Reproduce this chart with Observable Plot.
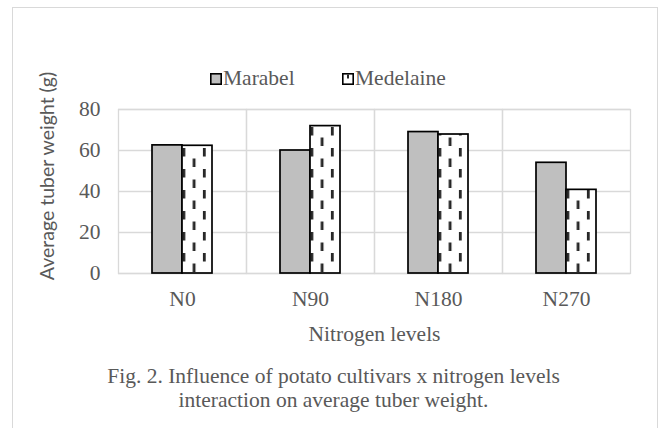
<!DOCTYPE html>
<html>
<head>
<meta charset="utf-8">
<script src="https://cdn.jsdelivr.net/npm/d3@7"></script>
<script src="https://cdn.jsdelivr.net/npm/@observablehq/plot@0.6"></script>
<style>
  html, body { margin: 0; padding: 0; background: #fff; }
  #wrap { position: relative; width: 667px; height: 428px; overflow: hidden; background: #fff; }
  #border { position: absolute; left: 12px; top: 7px; width: 646px; height: 480px; border: 1px solid #d9d9d9; box-sizing: border-box; }
  #chart { position: absolute; left: 0; top: 0; }
  #chart svg, #chart svg text { font-family: "Liberation Serif", "Times New Roman", serif !important; }
  .serif { font-family: "Liberation Serif", "Times New Roman", serif; color: #595959; }
  #legend { position: absolute; top: 68px; left: 0; width: 667px; height: 22px; font-size: 21.5px; line-height: 21px; }
  .item { position: absolute; top: 0; white-space: nowrap; }
  .sw { display: inline-block; width: 12px; height: 12px; margin-right: 1px; vertical-align: baseline; }
  #caption { position: absolute; left: 0; width: 667px; top: 364px; text-align: center; font-size: 21.5px; line-height: 24px; }
  #ytitle { position: absolute; left: 47px; top: 176px; transform: translate(-50%, -50%) rotate(-90deg); white-space: nowrap;
            font-family: Lato, "Open Sans", sans-serif; font-size: 19.5px; color: #595959; line-height: 22px; }
</style>
</head>
<body>
<div id="wrap">
  <div id="border"></div>
  <div id="chart"></div>
  <div id="legend" class="serif"></div>
  <div id="ytitle"></div>
  <div id="caption" class="serif"></div>
</div>
<script>
// ---- data ----
const levels = ["N0", "N90", "N180", "N270"];
const cultivars = ["Marabel", "Medelaine"];
const marabel = [62.5, 60.0, 69.0, 54.0];
const medelaine = [62.3, 71.9, 67.8, 40.8];
const yTicks = [0, 20, 40, 60, 80];
const yTitle = "Average tuber weight (g)";
const xTitle = "Nitrogen levels";
const captionLines = ["Fig. 2. Influence of potato cultivars x nitrogen levels", "interaction on average tuber weight."];

const rows = [];
levels.forEach((lv, i) => {
  rows.push({level: lv, cultivar: cultivars[0], value: marabel[i]});
  rows.push({level: lv, cultivar: cultivars[1], value: medelaine[i]});
});

const serif = '"Liberation Serif", "Times New Roman", serif';
const grey = "#595959";
const gridC = "#d9d9d9";

const defs = () => {
  const ns = "http://www.w3.org/2000/svg";
  const d = document.createElementNS(ns, "defs");
  d.innerHTML = `<pattern id="medpat" patternUnits="userSpaceOnUse" width="20.4" height="21">
      <rect width="20.4" height="21" fill="#fff"></rect>
      <rect x="0" y="1" width="2.8" height="8.5" fill="#262626"></rect>
      <rect x="10.2" y="11.5" width="2.8" height="8.5" fill="#262626"></rect>
    </pattern>`;
  return d;
};

const plot = Plot.plot({
  width: 667,
  height: 428,
  marginTop: 109,
  marginBottom: 155,
  marginLeft: 118,
  marginRight: 37,
  style: {background: "transparent", color: grey, overflow: "visible", fontFamily: serif},
  fx: {domain: levels, padding: 0},
  x: {domain: cultivars, paddingInner: 0, paddingOuter: 1.1, axis: null},
  y: {domain: [0, 80], ticks: yTicks},
  marks: [
    defs,
    Plot.gridY(yTicks, {stroke: gridC, strokeOpacity: 1, strokeWidth: 1.3}),
    Plot.frame({stroke: gridC, strokeWidth: 1.3}),
    Plot.barY(rows.filter(d => d.cultivar === cultivars[0]), {fx: "level", x: "cultivar", y: "value", fill: "#bfbfbf", stroke: "#000", strokeWidth: 1.7}),
    Plot.barY(rows.filter(d => d.cultivar === cultivars[1]), {fx: "level", x: "cultivar", y: "value", fill: "url(#medpat)", stroke: "#000", strokeWidth: 1.7, className: "med"}),
    Plot.axisY(yTicks, {tickSize: 0, tickPadding: 18, label: null, fontSize: 21.5, fontFamily: serif, color: grey}),
    Plot.axisFx({anchor: "bottom", tickSize: 0, tickPadding: 17, fontSize: 21.5, fontFamily: serif, color: grey, label: xTitle, labelAnchor: "center", labelArrow: "none", labelOffset: 67})
  ]
});
document.getElementById("chart").appendChild(plot);

// align pattern with the bar's left edge
const medRect = plot.querySelector(".med rect");
if (medRect) {
  const px = parseFloat(medRect.getAttribute("x") || 0);
  plot.querySelector("#medpat").setAttribute("x", px + 0.5);
}

// y title
document.getElementById("ytitle").textContent = yTitle;

// legend
const lg = document.getElementById("legend");
const legendPos = [210, 342];
cultivars.forEach((c, i) => {
  const it = document.createElement("span");
  it.className = "item";
  it.style.left = legendPos[i] + "px";
  const sw = document.createElementNS("http://www.w3.org/2000/svg", "svg");
  sw.setAttribute("class", "sw");
  sw.setAttribute("width", 12);
  sw.setAttribute("height", 12);
  sw.innerHTML = i === 0
    ? `<rect x="0.8" y="0.8" width="10.4" height="10.4" fill="#bfbfbf" stroke="#000" stroke-width="1.6"></rect>`
    : `<rect x="0.8" y="0.8" width="10.4" height="10.4" fill="#fff" stroke="#000" stroke-width="1.6"></rect><rect x="5" y="1.5" width="2" height="4" fill="#262626"></rect>`;
  it.appendChild(sw);
  it.appendChild(document.createTextNode(c));
  lg.appendChild(it);
});

// caption
const cap = document.getElementById("caption");
captionLines.forEach(t => { const d = document.createElement("div"); d.textContent = t; cap.appendChild(d); });
</script>
</body>
</html>
